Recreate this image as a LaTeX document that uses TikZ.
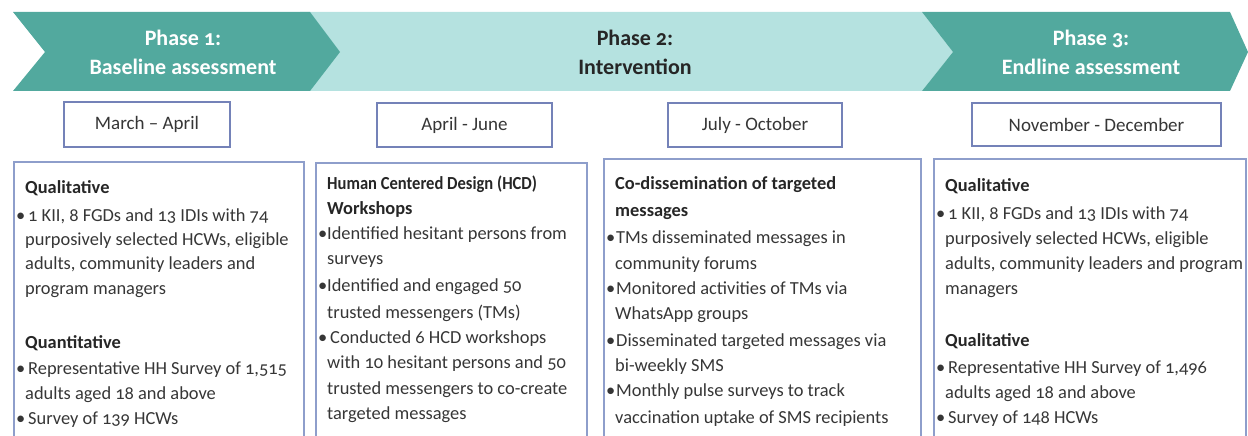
\documentclass[tikz,border=0pt]{standalone}
\usepackage{fontspec}
\setmainfont{Carlito}[Numbers=OldStyle]
\definecolor{tealdark}{HTML}{52A99E}
\definecolor{teallight}{HTML}{B5E2E0}
\definecolor{dborder}{HTML}{7482B8}
\definecolor{cborder}{HTML}{8E9ECB}
\definecolor{txtc}{HTML}{363636}
\definecolor{hdc}{HTML}{262626}
\newcommand\bulx{\llap{•}}
\begin{document}
\begin{tikzpicture}[x=1pt,y=-1pt,
  phase/.style={align=center, font=\fontsize{22}{29}\selectfont\bfseries, inner sep=0},
  datebox/.style={draw=dborder, line width=1.6pt, fill=white, inner sep=0,
    font=\fontsize{19}{22}\selectfont, text=txtc},
  cbox/.style={draw=cborder, line width=1.6pt, anchor=north west, minimum height=320pt, inner sep=0},
  ln/.style={anchor=base west, inner sep=0, font=\fontsize{18.4}{24}\selectfont, text=txtc},
  hd/.style={anchor=base west, inner sep=0, font=\fontsize{18.4}{24}\selectfont\bfseries, text=hdc},
]
\useasboundingbox (0,0) rectangle (1248,436);
\clip (0,0) rectangle (1248,436);

% chevrons
\fill[teallight] (300,12) -- (922,12) -- (953,52) -- (922,91) -- (300,91) -- cycle;
\fill[tealdark] (13,12) -- (310,12) -- (340,52) -- (310,91) -- (13,91) -- (45,52) -- cycle;
\fill[tealdark] (922,12) -- (1230,12) -- (1248,52) -- (1230,91) -- (922,91) -- (953,52) -- cycle;

\node[phase, text=white] (ph1) at (183,52) {Phase 1:\\Baseline assessment};
\node[phase, text=hdc] (ph2) at (635,52) {Phase 2:\\Intervention};
\node[phase, text=white] (ph3) at (1091,52) {Phase 3:\\Endline assessment};

% date boxes
\node[datebox, minimum width=166pt, minimum height=45pt] (d1) at (147,124.5) {March – April};
\node[datebox, minimum width=175pt, minimum height=44pt] (d2) at (464.5,125) {April - June};
\node[datebox, minimum width=174pt, minimum height=44pt] (d3) at (755,125) {July - October};
\node[datebox, minimum width=249pt, minimum height=43pt] (d4) at (1096.5,124.5) {November - December};

% content boxes
\node[cbox, minimum width=290pt] (c1) at (13,161) {};
\node[cbox, minimum width=271pt] (c2) at (315,162) {};
\node[cbox, minimum width=317pt] (c3) at (603,158) {};
\node[cbox, minimum width=312pt] (c4) at (933,158) {};

% box 1 text
\node[hd] (a1) at (25,193) {Qualitative};
\node[ln] (a2) at (25,221) {\bulx\hspace{3pt}1 KII, 8 FGDs and 13 IDIs with 74};
\node[ln] (a3) at (25,245) {purposively selected HCWs, eligible};
\node[ln] (a4) at (25,269) {adults, community leaders and};
\node[ln] (a5) at (25,294) {program managers};
\node[hd] (a6) at (25,348) {Quantitative};
\node[ln] (a7) at (25,374) {\bulx\hspace{3pt}Representative HH Survey of 1,515};
\node[ln] (a8) at (25,399) {adults aged 18 and above};
\node[ln] (a9) at (25,424) {\bulx\hspace{3pt}Survey of 139 HCWs};

% box 2 text
\node[hd] (b1) at (327,189) {\scalebox{0.9}[1]{Human Centered Design (HCD)}};
\node[hd] (b2) at (327,214) {Workshops};
\node[ln] (b3) at (327,239) {\bulx Identified hesitant persons from};
\node[ln] (b4) at (327,264) {surveys};
\node[ln] (b5) at (327,291) {\bulx Identified and engaged 50};
\node[ln] (b6) at (327,318) {trusted messengers (TMs)};
\node[ln] (b7) at (327,343) {\bulx\hspace{3pt}Conducted 6 HCD workshops};
\node[ln] (b8) at (327,368) {with 10 hesitant persons and 50};
\node[ln] (b9) at (327,394) {trusted messengers to co-create};
\node[ln] (b10) at (327,419) {targeted messages};

% box 3 text
\node[hd] (e1) at (615,189) {Co-dissemination of targeted};
\node[hd] (e2) at (615,216) {messages};
\node[ln] (e3) at (615,243) {\bulx\hspace{1pt}TMs disseminated messages in};
\node[ln] (e4) at (615,269) {community forums};
\node[ln] (e5) at (615,294) {\bulx\hspace{1pt}Monitored activities of TMs via};
\node[ln] (e6) at (615,319) {WhatsApp groups};
\node[ln] (e7) at (615,346) {\bulx\hspace{1pt}Disseminated targeted messages via};
\node[ln] (e8) at (615,371) {bi-weekly SMS};
\node[ln] (e9) at (615,396) {\bulx\hspace{1pt}Monthly pulse surveys to track};
\node[ln] (e10) at (615,423) {vaccination uptake of SMS recipients};

% box 4 text
\node[hd] (f1) at (945,191) {Qualitative};
\node[ln] (f2) at (945,219) {\bulx\hspace{3pt}1 KII, 8 FGDs and 13 IDIs with 74};
\node[ln] (f3) at (945,244) {purposively selected HCWs, eligible};
\node[ln] (f4) at (945,269) {adults, community leaders and program};
\node[ln] (f5) at (945,294) {managers};
\node[hd] (f6) at (945,346) {Qualitative};
\node[ln] (f7) at (945,373) {\bulx\hspace{3pt}Representative HH Survey of 1,496};
\node[ln] (f8) at (945,398) {adults aged 18 and above};
\node[ln] (f9) at (945,423) {\bulx\hspace{3pt}Survey of 148 HCWs};
\end{tikzpicture}
\end{document}
